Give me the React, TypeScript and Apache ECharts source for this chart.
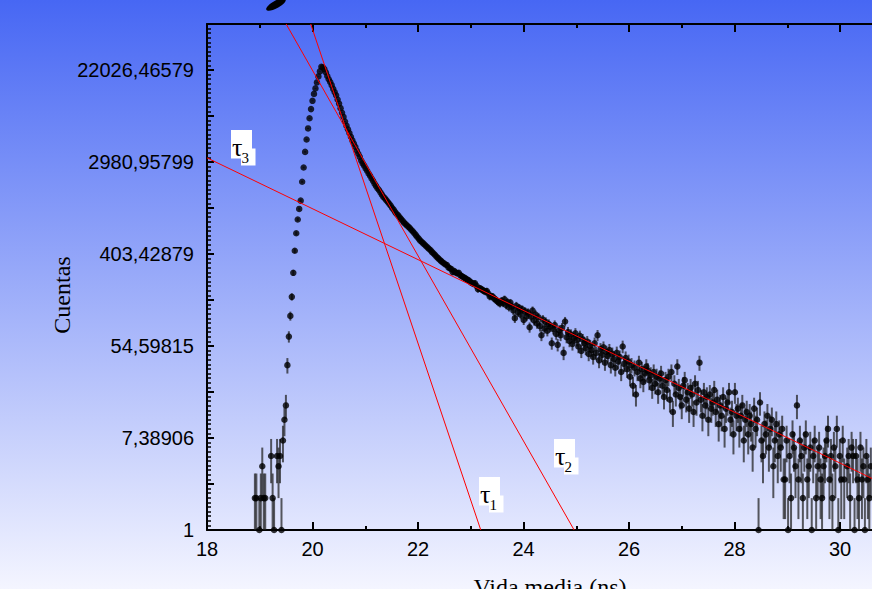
import React, { useEffect, useRef } from 'react';
import * as echarts from 'echarts';

// Channel grid of the histogram (ns)
const T0 = 18.88;
const DT = 0.028;

// Counts per channel (0 = empty channel, not plotted)
const COUNTS_RISE = [
  0, 2, 2, 0, 1, 2, 4, 2, 2, 0,
  0, 0, 5, 2, 1, 0, 5, 4, 5, 1,
  7, 11, 15, 36, 67, 105, 159, 268, 433, 633,
  854, 1075, 1287, 1939, 2644, 3714, 4865, 6186, 7707, 9414,
  11271, 13096, 14765, 16815, 19149, 21375, 23624,
];
const COUNTS_DECAY = [
  23389, 22471, 20952, 19341, 18034, 16984, 15835, 14618, 13630, 12707,
  11614, 10614, 9603, 8691, 7943, 7187, 6568, 6064, 5597, 5167,
  4769, 4447, 4146, 3827, 3569, 3328, 3072, 2893, 2752, 2592,
  2466, 2322, 2208, 2080, 1978, 1863, 1772, 1686, 1620, 1541,
  1466, 1395, 1353, 1300, 1249, 1200, 1153, 1097, 1054, 1003,
  963, 934, 898, 863, 829, 797, 773, 750, 728, 706,
  679, 658, 633, 608, 584, 561, 539, 523, 508, 493,
  478, 464, 450, 437, 420, 408, 395, 380, 369, 358,
  347, 337, 330, 321, 318, 302, 296, 290, 272, 279,
  270, 265, 268, 255, 250, 245, 240, 235, 230, 226,
  219, 215, 211, 213, 202, 188, 192, 189, 185, 181,
  178, 180, 171, 160, 161, 160, 153, 150, 145, 141,
  138,
];
const COUNTS_TAIL = [
  146, 139, 151, 133, 142, 127, 140, 129, 118, 100, 131, 114, 125, 108, 121, 96, 116, 104, 113, 82,
  103, 118, 95, 108, 89, 102, 84, 69, 97, 80, 92, 76, 88, 83, 58, 79, 86, 71, 56, 77,
  69, 81, 47, 93, 66, 74, 61, 70, 57, 65, 72, 62, 54, 68, 49, 63, 58, 52, 60, 46,
  55, 50, 43, 58, 47, 69, 40, 51, 45, 53, 38, 48, 44, 50, 36, 46, 41, 34, 47, 39,
  43, 31, 54, 37, 42, 33, 39, 28, 36, 23, 34, 19, 31, 38, 27, 33, 25, 30, 35, 32,
  26, 29, 22, 31, 24, 28, 20, 27, 30, 23, 18, 26, 21, 28, 17, 31, 13, 24, 19, 35,
  22, 18, 15, 23, 26, 17, 20, 14, 22, 19, 13, 24, 16, 21, 38, 17, 12, 20, 15, 18,
  11, 19, 14, 16, 21, 13, 17, 10, 15, 12, 18, 9, 14, 16, 20, 11, 13, 8, 20, 12,
  14, 9, 12, 15, 7, 11, 13, 8, 12, 10, 6, 14, 9, 11, 1, 16, 7, 5, 10, 8,
  12, 6, 9, 11, 4, 7, 10, 5, 8, 6, 9, 3, 3, 7, 1, 5, 2, 8, 6, 4,
  15, 3, 7, 5, 2, 6, 8, 3, 4, 6, 1, 5, 7, 2, 4, 6, 3, 2, 4, 5,
  7, 9, 3, 5, 2, 6, 4, 9, 1, 5, 3, 7, 3, 0, 4, 5, 2, 6, 5, 1,
  5, 3, 2, 6, 3, 4, 1, 5, 3, 2, 4,
];

// Exponential fits (straight lines on the ln axis): [time ns, counts]
const FIT_TAU1 = [[19.966, 59874.14], [23.19, 1]];
const FIT_TAU2 = [[19.5, 59874.14], [24.96, 1]];
const FIT_TAU3 = [[18, 3262], [31, 2.465]];

// Tick labels of the ln axis at e^0, e^2, ... e^10
const Y_TICK_LABELS = ['1', '7,38906', '54,59815', '403,42879', '2980,95799', '22026,46579'];

const TAU_LABELS = [
  { sub: '1', x: 479, y: 477 },
  { sub: '2', x: 554, y: 439 },
  { sub: '3', x: 231, y: 130 },
];

export default function App() {
  const ref = useRef<HTMLDivElement>(null);

  useEffect(() => {
    if (!ref.current) return;
    const chart = echarts.init(ref.current, undefined, { renderer: 'svg' });

    const counts = [...COUNTS_RISE, ...COUNTS_DECAY, ...COUNTS_TAIL];
    const pts = counts
      .map((n, i) => [T0 + i * DT, n])
      .filter((p) => p[1] > 0);
    const scatterData = pts.map(([x, n]) => [x, Math.log(n)]);
    const errData = pts.map(([x, n]) => {
      const s = Math.sqrt(n);
      return [x, Math.log(Math.max(n - s, 0.05)), Math.log(n + s)];
    });
    const fit = (arr: number[][]) => arr.map(([x, n]) => [x, Math.log(n)]);

    const axisLineStyle = { color: '#000', width: 2 };
    const xCommon = {
      type: 'value',
      min: 18,
      max: 31,
      interval: 2,
      axisLine: { onZero: false, lineStyle: axisLineStyle },
      axisTick: { inside: true, length: 8, lineStyle: { color: '#000', width: 2 } },
      minorTick: { show: true, splitNumber: 2, length: 4, lineStyle: { color: '#000', width: 2 } },
      splitLine: { show: false },
      minorSplitLine: { show: false },
    };

    const graphics: any[] = [
      {
        type: 'ellipse',
        x: 276,
        y: 4.5,
        rotation: 0.5,
        shape: { cx: 0, cy: 0, rx: 11, ry: 3.8 },
        style: { fill: '#000' },
      },
      {
        type: 'text',
        x: 62,
        y: 295,
        rotation: Math.PI / 2,
        style: {
          text: 'Cuentas',
          font: '24px "Liberation Serif"',
          fill: '#000',
          textAlign: 'center',
          textVerticalAlign: 'middle',
        },
      },
      {
        type: 'text',
        x: 550,
        y: 587,
        style: {
          text: 'Vida media (ns)',
          font: '24px "Liberation Serif"',
          fill: '#000',
          textAlign: 'center',
          textVerticalAlign: 'middle',
        },
      },
    ];
    TAU_LABELS.forEach((t) => {
      graphics.push(
        { type: 'rect', z: 100, shape: { x: t.x, y: t.y, width: 21, height: 28.5 }, style: { fill: '#fff' } },
        { type: 'rect', z: 100, shape: { x: t.x + 10, y: t.y + 18.5, width: 14.5, height: 17 }, style: { fill: '#fff' } },
        {
          type: 'text',
          z: 101,
          x: t.x + 1,
          y: t.y + 17.7,
          style: { text: 'τ', font: '26px "Liberation Serif"', fill: '#000', textAlign: 'left', textVerticalAlign: 'middle' },
        },
        {
          type: 'text',
          z: 101,
          x: t.x + 10.5,
          y: t.y + 27.9,
          style: { text: t.sub, font: '15px "Liberation Serif"', fill: '#000', textAlign: 'left', textVerticalAlign: 'middle' },
        }
      );
    });

    chart.setOption({
      animation: false,
      backgroundColor: {
        type: 'linear',
        x: 0,
        y: 0,
        x2: 0,
        y2: 1,
        colorStops: [
          { offset: 0, color: '#4767f4' },
          { offset: 1, color: '#f4f5ff' },
        ],
      },
      grid: { left: 207, top: 24, width: 685.75, height: 506, containLabel: false, outerBoundsMode: 'none' },
      xAxis: [
        {
          ...xCommon,
          position: 'bottom',
          axisLabel: { color: '#000', fontSize: 20, fontFamily: 'Liberation Sans', margin: 9, showMaxLabel: false },
        },
        {
          ...xCommon,
          position: 'top',
          axisLabel: { show: false },
        },
      ],
      yAxis: {
        type: 'value',
        min: 0,
        max: 11,
        interval: 1,
        axisLine: { onZero: false, lineStyle: axisLineStyle },
        axisTick: { inside: true, length: 7, lineStyle: { color: '#000', width: 2 } },
        minorTick: { show: true, splitNumber: 10, length: 4, lineStyle: { color: '#000', width: 1.5 } },
        splitLine: { show: false },
        minorSplitLine: { show: false },
        axisLabel: {
          color: '#000',
          fontSize: 20,
          fontFamily: 'Liberation Sans',
          margin: 13,
          formatter: (v: number) => {
            const k = Math.round(v);
            return k % 2 === 0 ? Y_TICK_LABELS[k / 2] ?? '' : '';
          },
        },
      },
      series: [
        {
          type: 'custom',
          xAxisIndex: 0,
          clip: true,
          z: 2,
          data: errData,
          encode: { x: 0, y: [1, 2] },
          renderItem: (params: any, api: any) => {
            const x = api.value(0);
            const a = api.coord([x, api.value(1)]);
            const b = api.coord([x, api.value(2)]);
            return {
              type: 'line',
              shape: { x1: a[0], y1: a[1], x2: b[0], y2: b[1] },
              style: { stroke: 'rgba(30,30,30,0.72)', lineWidth: 2 },
            };
          },
        },
        {
          type: 'scatter',
          xAxisIndex: 0,
          data: scatterData,
          symbol: 'circle',
          symbolSize: 6.5,
          itemStyle: { color: '#000' },
          clip: false,
          z: 3,
        },
        ...[FIT_TAU1, FIT_TAU2, FIT_TAU3].map((f) => ({
          type: 'line',
          xAxisIndex: 0,
          data: fit(f),
          symbol: 'none',
          clip: true,
          lineStyle: { color: '#ff0000', width: 1 },
          z: 4,
        })),
      ],
      graphic: graphics,
    });

    return () => chart.dispose();
  }, []);

  return (
    <div style={{ position: 'absolute', left: 0, top: 0, width: 872, height: 589 }}>
      <div ref={ref} style={{ width: 872, height: 589 }} />
    </div>
  );
}
